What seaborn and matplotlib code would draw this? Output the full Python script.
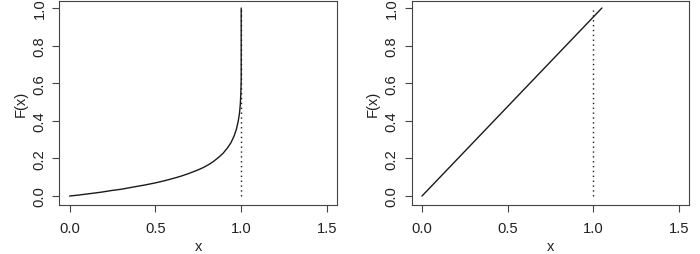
import numpy as np
import pandas as pd
import matplotlib
matplotlib.use("Agg")
import matplotlib.pyplot as plt
import seaborn as sns

# ---- data ----
left_x = [0.0, 0.05, 0.111, 0.18, 0.249, 0.30, 0.384, 0.44, 0.50, 0.56, 0.617, 0.65,
          0.695, 0.751, 0.78, 0.812, 0.84, 0.870, 0.895, 0.919, 0.94, 0.958, 0.972,
          0.983, 0.99, 0.995, 0.998, 1.0, 1.0]
left_F = [0.0, 0.005, 0.012, 0.020, 0.030, 0.036, 0.050, 0.059, 0.070, 0.083, 0.097, 0.106,
          0.120, 0.140, 0.152, 0.168, 0.185, 0.207, 0.228, 0.255, 0.283, 0.318, 0.355,
          0.400, 0.44, 0.49, 0.55, 0.62, 1.0]
right_x = [0.0, 1.05]
right_F = [0.0, 1.0]
vline_x = [1.0, 1.0]
vline_F = [0.0, 1.0]

x_ticks = [0.0, 0.5, 1.0, 1.5]
x_tick_labels = ["0.0", "0.5", "1.0", "1.5"]
y_ticks = [0.0, 0.2, 0.4, 0.6, 0.8, 1.0]
y_tick_labels = ["0.0", "0.2", "0.4", "0.6", "0.8", "1.0"]

sns.set_style("ticks")
plt.rcParams["font.family"] = ["Liberation Sans", "DejaVu Sans"]

FS = 10.6
EDGE = "#444444"
TXT = "#222222"

fig = plt.figure(figsize=(7.0, 2.55), dpi=100)
ax1 = fig.add_axes([59.3 / 700, 1 - 205.5 / 255, 278.0 / 700, 204.0 / 255])
ax2 = fig.add_axes([411.7 / 700, 1 - 205.5 / 255, 277.6 / 700, 204.0 / 255])

left_df = pd.DataFrame({"x": left_x, "F": left_F})
right_df = pd.DataFrame({"x": right_x, "F": right_F})
vline_df = pd.DataFrame({"x": vline_x, "F": vline_F})

for ax, df in [(ax1, left_df), (ax2, right_df)]:
    sns.lineplot(data=df, x="x", y="F", ax=ax, color="#1a1a1a", linewidth=1.0,
                 estimator=None, sort=False)
    sns.lineplot(data=vline_df, x="x", y="F", ax=ax, color="#1a1a1a", linewidth=1.0,
                 linestyle=(0, (1, 2.5)), estimator=None, sort=False)
    ax.set_xlim(-0.06, 1.56)
    ax.set_ylim(-0.045, 1.04)
    ax.set_xticks(x_ticks)
    ax.set_xticklabels(x_tick_labels, fontsize=FS, color=TXT)
    ax.set_yticks(y_ticks)
    ax.set_yticklabels(y_tick_labels, fontsize=FS, color=TXT, rotation=90, va="center")
    ax.tick_params(axis="both", length=5, width=0.8, color=EDGE)
    ax.tick_params(axis="x", pad=7)
    ax.tick_params(axis="y", pad=4.3)
    for s in ax.spines.values():
        s.set_visible(True)
        s.set_color(EDGE)
        s.set_linewidth(0.8)
    ax.set_xlabel("x", fontsize=FS, color=TXT, labelpad=2.6)
    ax.set_ylabel("F(x)", fontsize=FS, color=TXT, labelpad=3.6)

fig.savefig("out.png", dpi=100)
